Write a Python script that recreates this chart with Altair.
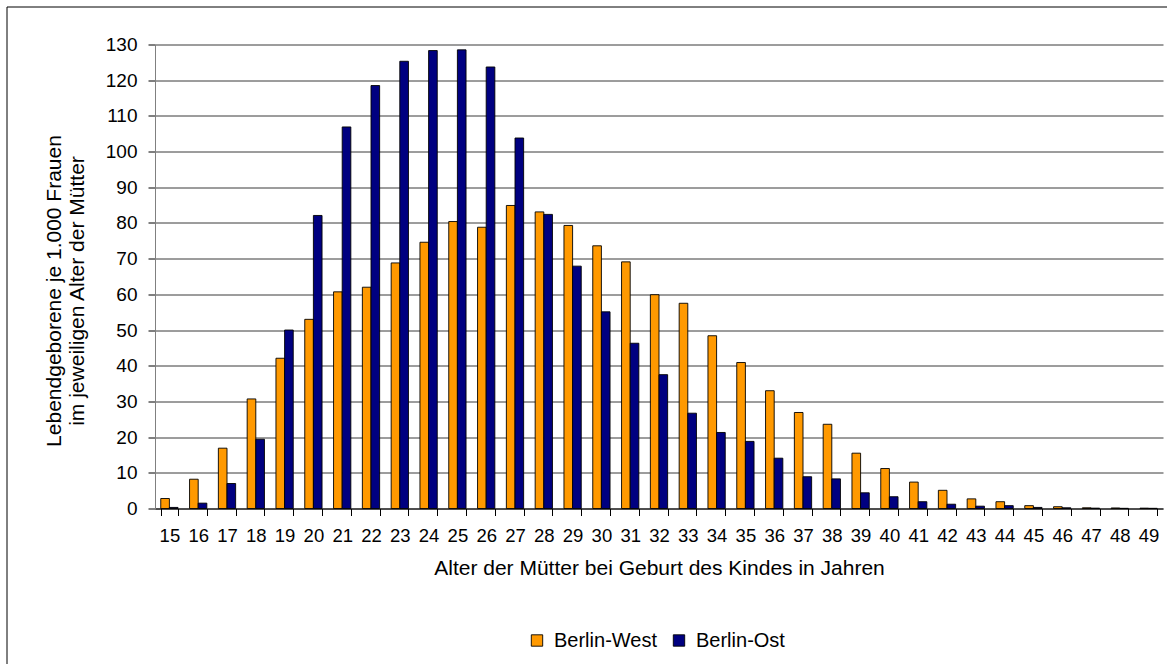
import altair as alt
import pandas as pd

# Lebendgeborene je 1.000 Frauen nach Alter der Mutter
ages = list(range(15, 50))
west = [2.8, 8.2, 16.9, 30.7, 42.1, 53.0, 60.7, 62.0, 68.8, 74.6, 80.4, 78.8,
        84.9, 83.1, 79.3, 73.6, 69.1, 59.9, 57.5, 48.4, 40.9, 33.0, 26.9, 23.6,
        15.5, 11.2, 7.4, 5.1, 2.7, 1.9, 0.8, 0.5, 0.2, 0.15, 0.1]
east = [0.3, 1.5, 7.0, 19.4, 50.0, 82.1, 106.9, 118.5, 125.3, 128.3, 128.5, 123.7,
        103.8, 82.4, 67.9, 55.1, 46.3, 37.5, 26.7, 21.3, 18.8, 14.1, 8.9, 8.3,
        4.4, 3.3, 1.9, 1.2, 0.65, 0.8, 0.3, 0.2, 0.1, 0.05, 0.05]
series = ["Berlin-West", "Berlin-Ost"]
colors = ["#FF9900", "#000080"]
y_ticks = list(range(0, 131, 10))

rows = []
for a, w, e in zip(ages, west, east):
    rows.append({"Alter": str(a), "Gebiet": series[0], "Wert": w})
    rows.append({"Alter": str(a), "Gebiet": series[1], "Wert": e})
df = pd.DataFrame(rows)

FONT = "Liberation Sans"
W, H = 1008, 464
TOP, LEFT = 44.5, 155

bars = alt.Chart(df).mark_bar(stroke="#000000", strokeWidth=0.9).encode(
    x=alt.X(
        "Alter:N",
        sort=[str(a) for a in ages],
        scale=alt.Scale(paddingInner=0.4, paddingOuter=0.2),
        axis=alt.Axis(
            title="Alter der Mütter bei Geburt des Kindes in Jahren",
            labelAngle=0,
            tickBand="extent",
            tickSize=7,
            tickColor="#000000",
            domainColor="#000000",
            labelPadding=11,
            labelFontSize=18.5,
            titleBaseline="middle",
            titleY=60,
            titleFontSize=21,
            grid=False,
        ),
    ),
    xOffset=alt.XOffset("Gebiet:N", sort=series,
                        scale=alt.Scale(paddingInner=0, paddingOuter=0)),
    y=alt.Y(
        "Wert:Q",
        scale=alt.Scale(domain=[0, 130], nice=False),
        axis=alt.Axis(
            title=["Lebendgeborene je 1.000 Frauen", "im jeweiligen Alter der Mütter"],
            values=y_ticks,
            tickSize=7,
            tickColor="#000000",
            domainColor="#808080",
            labelPadding=11,
            labelFontSize=19,
            grid=True,
            gridColor="#3a3a3a",
            gridWidth=1,
            titleFontSize=21,
            titleAngle=270,
            titleAlign="center",
            titleBaseline="middle",
            titleX=-101,
            titleY=246,
            titleLineHeight=23,
        ),
    ),
    color=alt.Color(
        "Gebiet:N",
        sort=series,
        scale=alt.Scale(domain=series, range=colors),
        legend=alt.Legend(
            title=None,
            orient="none",
            direction="horizontal",
            legendX=372,
            legendY=586,
            symbolType="square",
            symbolSize=130,
            symbolStrokeColor="#000000",
            symbolStrokeWidth=0.9,
            labelFontSize=20,
            labelFont=FONT,
            labelColor="#000000",
            columnPadding=12,
            labelOffset=7,
        ),
    ),
)

# outer chart frame
frame = alt.Chart(pd.DataFrame({"k": [0]})).mark_rect(
    fill=None, stroke="#000000", strokeWidth=1
).encode(
    x=alt.value(7 - LEFT), x2=alt.value(W + 30),
    y=alt.value(7 - TOP), y2=alt.value(H + 200),
)

chart = alt.layer(frame, bars).properties(
    width=W,
    height=H,
    autosize=alt.AutoSizeParams(type="none"),
    padding={"left": LEFT, "top": TOP, "right": 4, "bottom": 664 - TOP - H},
    background="#ffffff",
).configure_view(stroke=None).configure_axis(
    labelFont=FONT,
    titleFont=FONT,
    titleFontWeight="normal",
    labelColor="#000000",
    titleColor="#000000",
)

chart.save("out.html", embed_options={"renderer": "svg", "actions": False})
